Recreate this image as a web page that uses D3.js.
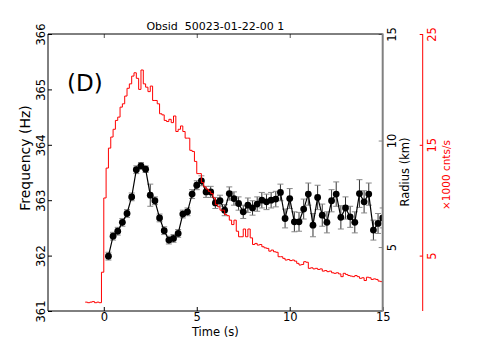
<!DOCTYPE html>
<html>
<head>
<meta charset="utf-8">
<script src="https://cdn.jsdelivr.net/npm/d3@7"></script>
<style>
  html, body { margin: 0; padding: 0; background: #fff; }
  text { font-family: "DejaVu Sans", sans-serif; }
</style>
</head>
<body>
<svg id="chart" width="479" height="346"></svg>
<script>
// ---------------- data ----------------
const titleText = "Obsid  50023-01-22-00 1";
const panelLabel = "(D)";
const xTicks = [0, 5, 10, 15];
const freqTicks = [361, 362, 363, 364, 365, 366];
const radiusTicks = [5, 10, 15];
const countTicks = [5, 15, 25];

// frequency points (Hz) every 0.25 s
const freqTimes = d3.range(60).map(i => 0.25 + 0.25 * i);
const freqValues = [
  361.99, 362.35, 362.44, 362.60, 362.76, 363.06, 363.55, 363.62, 363.56, 363.09,
  362.99, 362.68, 362.45, 362.28, 362.31, 362.40, 362.75, 362.79, 363.11, 363.27,
  363.35, 363.15, 363.15, 362.95, 362.99, 362.82, 363.12, 363.03, 362.94, 362.79,
  362.91, 362.86, 362.93, 363.00, 362.97, 363.00, 363.02, 363.14, 362.67, 363.03,
  362.61, 362.61, 362.84, 363.11, 362.55, 363.05, 362.73, 362.60, 362.99, 363.11,
  362.69, 362.86, 362.70, 362.60, 363.12, 362.97, 363.11, 362.46, 362.58, 362.68
];
const freqErrors = [
  0.07, 0.07, 0.07, 0.07, 0.07, 0.07, 0.07, 0.06, 0.06, 0.20,
  0.07, 0.07, 0.07, 0.07, 0.07, 0.07, 0.07, 0.07, 0.08, 0.08,
  0.09, 0.10, 0.10, 0.10, 0.10, 0.10, 0.12, 0.12, 0.12, 0.12,
  0.13, 0.13, 0.13, 0.14, 0.14, 0.14, 0.14, 0.15, 0.17, 0.18,
  0.18, 0.17, 0.18, 0.20, 0.21, 0.22, 0.20, 0.19, 0.20, 0.22,
  0.21, 0.20, 0.19, 0.19, 0.25, 0.20, 0.20, 0.18, 0.18, 0.18
];

// count rate histogram (x1000 cnts/s), bins of 0.125 s from -1 s
const rateStart = -1.0;
const rateBin = 0.125;
const rateValues = [
  0.80, 0.75, 0.80, 0.85, 0.75, 0.80, 0.75, 3.50,
  10.2, 12.9, 14.7, 15.7, 16.4, 17.2, 17.5, 18.4,
  18.7, 19.4, 20.1, 20.5, 21.2, 21.5, 21.0, 20.0,
  21.75, 20.5, 20.2, 19.8, 20.3, 19.0, 19.0, 18.7,
  17.8, 17.7, 17.2, 17.1, 17.3, 17.0, 17.6, 16.2,
  16.4, 16.7, 16.2, 15.6, 15.6, 14.5, 14.4, 13.5,
  12.4, 12.4, 11.6, 11.2, 11.0, 10.8, 10.6, 10.2,
  9.6, 9.4, 9.1, 9.1, 8.7, 8.6, 8.2, 7.8,
  8.2, 7.2, 6.7, 6.7, 7.4, 6.7, 7.4, 6.6,
  6.0, 6.1, 5.95, 6.0, 5.8, 5.7, 5.65, 5.4,
  5.5, 5.35, 5.3, 4.9, 4.9, 4.75, 4.6, 4.65,
  4.55, 4.6, 4.5, 4.3, 4.15, 4.2, 4.45, 4.4,
  3.85, 3.9, 3.8, 3.85, 3.75, 3.8, 3.6, 3.65,
  3.55, 3.6, 3.45, 3.4, 3.45, 3.35, 3.1, 3.4,
  3.3, 3.2, 3.15, 3.1, 3.2, 3.1, 2.95, 3.0,
  2.75, 3.05, 3.0, 2.85, 2.9, 2.85, 2.7, 2.65
];

// ---------------- layout ----------------
const svg = d3.select("#chart");
const L = 48, R = 382.7, T = 34, B = 311;
const redAxisX = 422.7;

const x = d3.scaleLinear().domain([-3, 15]).range([L, R]);
const yF = d3.scaleLinear().domain([361, 366]).range([B, T]);
const yR = d3.scaleLinear().domain([2, 15]).range([B, T]);
const yC = d3.scaleLinear().domain([0, 25]).range([B, T]);

svg.append("defs").append("clipPath").attr("id", "plotclip")
  .append("rect").attr("x", L).attr("y", T).attr("width", R - L).attr("height", B - T);

const plot = svg.append("g").attr("clip-path", "url(#plotclip)");

// frequency points
const fdata = freqTimes.map((t, i) => ({ t, f: freqValues[i], e: freqErrors[i] }));
const eb = plot.append("g");
fdata.forEach(d => {
  eb.append("line").attr("x1", x(d.t)).attr("x2", x(d.t))
    .attr("y1", yF(d.f - d.e)).attr("y2", yF(d.f + d.e))
    .attr("stroke", "#333").attr("stroke-width", 1);
  [d.f - d.e, d.f + d.e].forEach(v => {
    eb.append("line").attr("x1", x(d.t) - 3).attr("x2", x(d.t) + 3)
      .attr("y1", yF(v)).attr("y2", yF(v))
      .attr("stroke", "#888").attr("stroke-width", 1);
  });
});
plot.append("path").datum(fdata)
  .attr("fill", "none").attr("stroke", "#000").attr("stroke-width", 1.2)
  .attr("d", d3.line().x(d => x(d.t)).y(d => yF(d.f)));
plot.append("g").selectAll("circle").data(fdata).join("circle")
  .attr("cx", d => x(d.t)).attr("cy", d => yF(d.f)).attr("r", 3.4).attr("fill", "#000");

// count-rate step histogram
const rdata = rateValues.map((v, i) => ({ t: rateStart + rateBin * i, v }));
rdata.push({ t: rateStart + rateBin * rateValues.length, v: rateValues[rateValues.length - 1] });
plot.append("path").datum(rdata)
  .attr("fill", "none").attr("stroke", "#ff0000").attr("stroke-width", 1)
  .attr("d", d3.line().curve(d3.curveStepAfter).x(d => x(d.t)).y(d => yC(d.v)));

// ---------------- axes ----------------
// bottom
const axB = svg.append("g").attr("transform", `translate(0,${B})`)
  .call(d3.axisBottom(x).tickValues(xTicks).tickSize(-4).tickPadding(2).tickFormat(d3.format("d")));
axB.select(".domain").remove();
axB.selectAll("line").attr("stroke", "#000");
axB.selectAll("text").attr("font-size", 11.5).attr("fill", "#000").attr("font-family", "DejaVu Sans");
// top ticks
const axT = svg.append("g").attr("transform", `translate(0,${T})`)
  .call(d3.axisTop(x).tickValues(xTicks.slice(0, 3)).tickSize(-4).tickFormat(""));
axT.select(".domain").remove();
axT.selectAll("line").attr("stroke", "#555");

// left frequency axis
const axL = svg.append("g").attr("transform", `translate(${L},0)`)
  .call(d3.axisLeft(yF).tickValues(freqTicks).tickSize(-4).tickFormat(d3.format("d")));
axL.select(".domain").remove();
axL.selectAll("line").attr("stroke", "#000");
axL.selectAll("text")
  .attr("x", null).attr("dy", null)
  .attr("transform", "translate(-3,0) rotate(-90)")
  .attr("text-anchor", "middle")
  .attr("font-size", 11.5).attr("fill", "#000").attr("font-family", "DejaVu Sans");

// right radius axis
const axRr = svg.append("g").attr("transform", `translate(${R},0)`)
  .call(d3.axisRight(yR).tickValues(radiusTicks).tickSize(-4).tickFormat(d3.format("d")));
axRr.select(".domain").remove();
axRr.selectAll("line").attr("stroke", "#888");
axRr.selectAll("text")
  .attr("x", null).attr("dy", null)
  .attr("transform", "translate(13,0) rotate(-90)")
  .attr("text-anchor", "middle")
  .attr("font-size", 11.5).attr("fill", "#000").attr("font-family", "DejaVu Sans");

// red count axis
const axC = svg.append("g").attr("transform", `translate(${redAxisX},0)`)
  .call(d3.axisLeft(yC).tickValues(countTicks).tickSize(3).tickFormat(d3.format("d")));
axC.select(".domain").remove();
axC.selectAll("line").attr("stroke", "#ff0000");
axC.selectAll("text")
  .attr("x", null).attr("dy", null)
  .attr("transform", "translate(13,0) rotate(-90)")
  .attr("text-anchor", "middle")
  .attr("font-size", 11.5).attr("fill", "#ff0000").attr("font-family", "DejaVu Sans");
svg.append("line").attr("x1", redAxisX).attr("x2", redAxisX).attr("y1", T).attr("y2", B)
  .attr("stroke", "#ff0000").attr("stroke-width", 1);

// frame
svg.append("line").attr("x1", L).attr("x2", R).attr("y1", T).attr("y2", T).attr("stroke", "#000").attr("stroke-width", 1);
svg.append("line").attr("x1", L).attr("x2", R).attr("y1", B).attr("y2", B).attr("stroke", "#000").attr("stroke-width", 1);
svg.append("line").attr("x1", L).attr("x2", L).attr("y1", T).attr("y2", B).attr("stroke", "#000").attr("stroke-width", 1);
svg.append("line").attr("x1", R).attr("x2", R).attr("y1", T - 0.5).attr("y2", B + 0.5).attr("stroke", "#808080").attr("stroke-width", 2);

// ---------------- labels ----------------
svg.append("text").attr("x", (L + R) / 2).attr("y", 30).attr("text-anchor", "middle")
  .attr("font-size", 11).style("white-space", "pre").text(titleText);
svg.append("text").attr("x", 67).attr("y", 91).attr("font-size", 23).text(panelLabel);
svg.append("text").attr("x", (L + R) / 2).attr("y", 336).attr("text-anchor", "middle")
  .attr("font-size", 11.5).text("Time (s)");
svg.append("text").attr("transform", "translate(29.5,158) rotate(-90)").attr("text-anchor", "middle")
  .attr("font-size", 14).text("Frequency (Hz)");
svg.append("text").attr("transform", "translate(408.5,172) rotate(-90)").attr("text-anchor", "middle")
  .attr("font-size", 11.5).text("Radius (km)");
svg.append("text").attr("transform", "translate(450,175) rotate(-90)").attr("text-anchor", "middle")
  .attr("font-size", 10.5).attr("fill", "#ff0000").text("×1000 cnts/s");
</script>
</body>
</html>
